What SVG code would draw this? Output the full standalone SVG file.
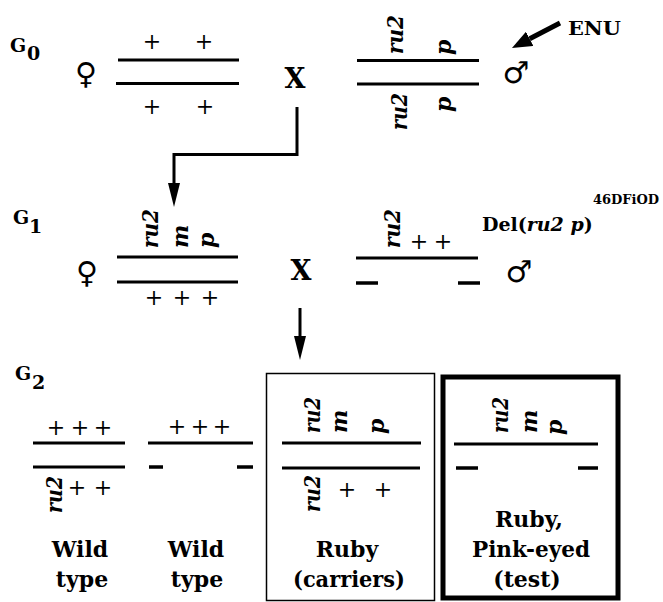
<svg xmlns="http://www.w3.org/2000/svg" width="663" height="602" viewBox="0 0 663 602">
<style>
.chr{stroke:#000;stroke-width:3;fill:none}
.dash{stroke:#000;stroke-width:3.5;fill:none}
.serif{font-family:"DejaVu Serif","Liberation Serif",serif}
.lab{font-family:"DejaVu Serif","Liberation Serif",serif;font-weight:bold;font-style:italic;font-size:22px;fill:#000}
.plus{font-family:"DejaVu Serif","Liberation Serif",serif;font-size:22px;text-anchor:middle;fill:#000}
.big{font-family:"DejaVu Serif","Liberation Serif",serif;font-weight:bold;font-size:22px;text-anchor:middle;fill:#000}
.gen{font-family:"DejaVu Serif","Liberation Serif",serif;font-weight:bold;font-size:19px;fill:#000}
.sym{font-family:"DejaVu Sans",sans-serif;font-weight:bold;font-size:30px;text-anchor:middle;fill:#000}
.x{font-family:"DejaVu Serif","Liberation Serif",serif;font-weight:bold;font-size:27px;text-anchor:middle;fill:#000}
.conn{stroke:#000;stroke-width:3;fill:none}
</style>
<defs>
<marker id="arr" markerUnits="userSpaceOnUse" markerWidth="24" markerHeight="12" refX="0" refY="6" orient="auto">
<path d="M0,0 L24,6 L0,12 z" fill="#000"/>
</marker>
<marker id="arrB" markerUnits="userSpaceOnUse" markerWidth="20" markerHeight="16" refX="0" refY="8" orient="auto">
<path d="M0,0 L20,8 L0,16 z" fill="#000"/>
</marker>
</defs>
<rect width="663" height="602" fill="#fff"/>

<g id="generation-labels">
<text class="gen" x="10" y="52">G</text><text class="gen" x="27" y="60">0</text>
<text class="gen" x="13" y="224">G</text><text class="gen" x="29" y="233">1</text>
<text class="gen" x="15" y="380">G</text><text class="gen" x="32" y="389">2</text>
</g>

<g id="g0-female">
<text class="sym" x="86" y="84">♀</text>
<line class="chr" x1="118" y1="60" x2="239" y2="60"/>
<line class="chr" x1="116" y1="83.5" x2="239" y2="83.5"/>
<text class="plus" x="152" y="49">+</text><text class="plus" x="204" y="49">+</text>
<text class="plus" x="152" y="114">+</text><text class="plus" x="205" y="114">+</text>
</g>

<g id="g0-cross"><text class="x" x="295" y="88">X</text></g>

<g id="g0-male">
<line class="chr" x1="357" y1="60.5" x2="479" y2="60.5"/>
<line class="chr" x1="357" y1="84" x2="479" y2="84"/>
<text class="lab" transform="translate(403,54) rotate(-90)" textLength="39" lengthAdjust="spacingAndGlyphs">ru2</text>
<text class="lab" transform="translate(451,55) rotate(-90)">p</text>
<text class="lab" transform="translate(407,130) rotate(-90)" textLength="37" lengthAdjust="spacingAndGlyphs">ru2</text>
<text class="lab" transform="translate(451,112) rotate(-90)">p</text>
<text class="sym" x="516" y="83">♂</text>
</g>

<g id="enu">
<text class="serif" x="568" y="35" font-weight="bold" font-size="19" textLength="53" lengthAdjust="spacingAndGlyphs">ENU</text>
</g>

<g id="g1-female">
<text class="sym" x="87" y="283">♀</text>
<line class="chr" x1="117" y1="257" x2="238" y2="257"/>
<line class="chr" x1="117" y1="282" x2="238" y2="282"/>
<text class="lab" transform="translate(158,248) rotate(-90)" textLength="39" lengthAdjust="spacingAndGlyphs">ru2</text>
<text class="lab" transform="translate(188,248) rotate(-90)">m</text>
<text class="lab" transform="translate(214,248) rotate(-90)">p</text>
<text class="plus" x="154" y="305">+</text><text class="plus" x="182" y="305">+</text><text class="plus" x="210" y="305">+</text>
</g>

<g id="g1-cross"><text class="x" x="301" y="280">X</text></g>

<g id="g1-male">
<line class="chr" x1="356" y1="258" x2="478" y2="258"/>
<line class="dash" x1="356" y1="283" x2="378" y2="283"/>
<line class="dash" x1="458" y1="283" x2="480" y2="283"/>
<text class="lab" transform="translate(400,248) rotate(-90)" textLength="39" lengthAdjust="spacingAndGlyphs">ru2</text>
<text class="plus" x="419" y="249">+</text><text class="plus" x="443" y="249">+</text>
<text class="sym" x="519" y="282">♂</text>
</g>

<g id="deletion-label">
<text class="serif" x="482" y="231" font-weight="bold" font-size="19">Del(<tspan font-style="italic">ru2 p</tspan>)</text>
<text class="serif" x="593" y="204" font-weight="bold" font-size="13">46DFiOD</text>
</g>

<g id="g2-wild1">
<line class="chr" x1="33" y1="443" x2="125" y2="443"/>
<line class="chr" x1="33" y1="467" x2="125" y2="467"/>
<text class="plus" x="56" y="435">+</text><text class="plus" x="80" y="435">+</text><text class="plus" x="103" y="435">+</text>
<text class="lab" transform="translate(62,513) rotate(-90)" textLength="37" lengthAdjust="spacingAndGlyphs">ru2</text>
<text class="plus" x="77" y="495">+</text><text class="plus" x="103" y="495">+</text>
<text class="big" x="80" y="557">Wild</text>
<text class="big" x="82" y="587">type</text>
</g>

<g id="g2-wild2">
<line class="chr" x1="148" y1="443" x2="253" y2="443"/>
<line class="dash" x1="149" y1="467" x2="163" y2="467"/>
<line class="dash" x1="237" y1="467" x2="253" y2="467"/>
<text class="plus" x="177" y="434">+</text><text class="plus" x="200" y="434">+</text><text class="plus" x="222" y="434">+</text>
<text class="big" x="196" y="557">Wild</text>
<text class="big" x="197" y="587">type</text>
</g>

<g id="g2-carriers">
<rect x="266.5" y="373.5" width="168" height="227" fill="none" stroke="#000" stroke-width="1.5"/>
<line class="chr" x1="282" y1="443" x2="421" y2="443"/>
<line class="chr" x1="282" y1="468" x2="420" y2="468"/>
<text class="lab" transform="translate(320,433) rotate(-90)" textLength="36" lengthAdjust="spacingAndGlyphs">ru2</text>
<text class="lab" transform="translate(347,433) rotate(-90)">m</text>
<text class="lab" transform="translate(384,434) rotate(-90)">p</text>
<text class="lab" transform="translate(320,512) rotate(-90)" textLength="37" lengthAdjust="spacingAndGlyphs">ru2</text>
<text class="plus" x="347" y="497">+</text><text class="plus" x="383" y="497">+</text>
<text class="big" x="347" y="557">Ruby</text>
<text class="big" x="349" y="587" textLength="112" lengthAdjust="spacingAndGlyphs">(carriers)</text>
</g>

<g id="g2-test">
<rect x="443" y="377" width="175" height="221" fill="none" stroke="#000" stroke-width="5"/>
<line class="chr" x1="454" y1="444" x2="598" y2="444"/>
<line class="dash" x1="456" y1="468" x2="478" y2="468"/>
<line class="dash" x1="578" y1="468" x2="598" y2="468"/>
<text class="lab" transform="translate(508,433) rotate(-90)" textLength="36" lengthAdjust="spacingAndGlyphs">ru2</text>
<text class="lab" transform="translate(537,433) rotate(-90)">m</text>
<text class="lab" transform="translate(562,435) rotate(-90)">p</text>
<text class="big" x="529" y="527">Ruby,</text>
<text class="big" x="531" y="557" textLength="118" lengthAdjust="spacingAndGlyphs">Pink-eyed</text>
<text class="big" x="527" y="587">(test)</text>
</g>

<g id="connectors">
<path class="conn" d="M297,107 V154.5 H174 V183" marker-end="url(#arr)"/>
<path class="conn" d="M300,308 V336" marker-end="url(#arr)"/>
<line x1="560" y1="23" x2="529.7" y2="38.8" stroke="#000" stroke-width="5" marker-end="url(#arrB)"/>
</g>
</svg>
